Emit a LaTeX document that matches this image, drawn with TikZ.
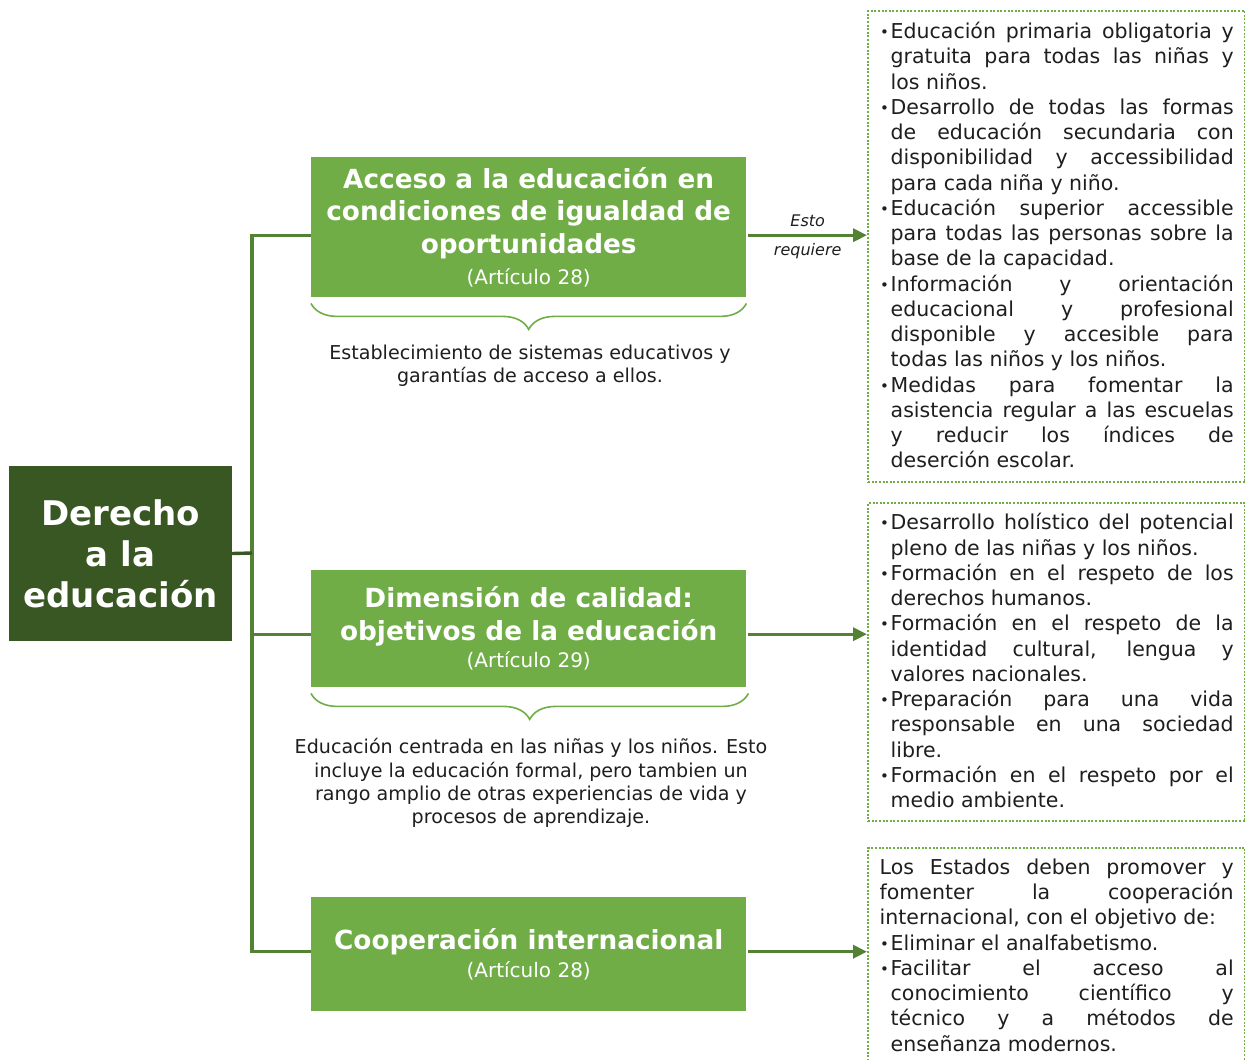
\documentclass[tikz,border=0pt]{standalone}
\usepackage{fontspec}
\setmainfont{DejaVu Sans}
\definecolor{edDark}{HTML}{385723}
\definecolor{edGreen}{HTML}{70AD47}
\definecolor{edLine}{HTML}{548235}
\definecolor{edInk}{HTML}{1E1E1E}
\usetikzlibrary{calc,positioning,arrows.meta,decorations.pathreplacing}

% bullet item with hanging indent
\newcommand{\punto}{\par\noindent\hangindent=11pt\hangafter=1%
  \makebox[11pt][l]{\hspace{0.5pt}\raisebox{1pt}{\fontsize{15}{15}\selectfont\textbullet}}}
% article reference under a box title
\newcommand{\articulo}[1]{{\fontsize{20}{24}\selectfont\mdseries #1}}

\begin{document}
\begin{tikzpicture}[x=1pt,y=-1pt,
  raiz/.style={fill=edDark, text=white, minimum width=223pt, minimum height=175pt,
    inner sep=0pt, align=center, font=\fontsize{34}{41}\selectfont\bfseries},
  caja/.style={fill=edGreen, text=white, minimum width=435pt, inner sep=0pt,
    anchor=north west, align=center, font=\fontsize{26.3}{32.5}\selectfont\bfseries},
  nota/.style={text=edInk, align=center, font=\fontsize{19.1}{23.3}\selectfont},
  lista/.style={draw=edGreen, line width=2.4pt, dash pattern=on 2pt off 1.6pt,
    text=edInk, minimum width=377pt, text width=354pt, inner xsep=11.5pt, inner ysep=0pt,
    anchor=north west, align=justify, font=\fontsize{20.5}{25.25}\selectfont,
    execute at begin node={\parindent=0pt\tolerance=10000\hbadness=10000\hyphenpenalty=10000}},
  rama/.style={draw=edLine, line width=3.4pt},
  flecha/.style={draw=edLine, line width=3.4pt, -{Triangle[length=14pt,width=13pt]}},
  llave/.style={draw=edGreen, line width=1.6pt, decorate, decoration={brace, amplitude=26pt}},
  etiqueta/.style={text=edInk, font=\fontsize{16}{19}\selectfont\itshape}]

  \useasboundingbox (0,0) rectangle (1245,1060);

  % root
  \node[raiz] (raiz) at (120.5,553.5) {Derecho\\a la\\educación};

  % three green boxes
  \node[caja, minimum height=140pt] (acceso) at (311,157)
    {Acceso a la educación en\\condiciones de igualdad de\\oportunidades\\[-1pt]
     \articulo{(Artículo 28)}};
  \node[caja, minimum height=117pt] (calidad) at (311,570)
    {Dimensión de calidad:\\objetivos de la educación\\[-5pt]\articulo{(Artículo 29)}};
  \node[caja, minimum height=114pt] (coop) at (311,897)
    {Cooperación internacional\\[-5pt]\articulo{(Artículo 28)}};

  % braces and notes
  \draw[llave] ([yshift=-6pt]acceso.south east) -- ([yshift=-6pt]acceso.south west);
  \node[nota] (nota1) at (530,365.5)
    {Establecimiento de sistemas educativos y\\garantías de acceso a ellos.};
  \draw[llave] ([yshift=-6pt,xshift=2pt]calidad.south east) -- ([yshift=-6pt]calidad.south west);
  \node[nota] (nota2) at (531,783)
    {Educación centrada en las niñas y los niños. Esto\\incluye la educación formal, pero tambien un\\rango amplio de otras experiencias de vida y\\procesos de aprendizaje.};

  % dotted lists on the right
  \node[lista, minimum height=471pt] (lista1) at (867,10) {%
    \punto Educación primaria obligatoria y\linebreak gratuita para todas las niñas y\linebreak los niños.
    \punto Desarrollo de todas las formas\linebreak de educación secundaria con\linebreak disponibilidad y accessibilidad\linebreak para cada niña y niño.
    \punto Educación superior accessible\linebreak para todas las personas sobre la\linebreak base de la capacidad.
    \punto Información y orientación\linebreak educacional y profesional\linebreak disponible y accesible para\linebreak todas las niños y los niños.
    \punto Medidas para fomentar la\linebreak asistencia regular a las escuelas\linebreak y reducir los índices de\linebreak deserción escolar.\par\vspace{12pt}};
  \node[lista, minimum height=318pt] (lista2) at (867,502) {%
    \punto Desarrollo holístico del potencial\linebreak pleno de las niñas y los niños.
    \punto Formación en el respeto de los\linebreak derechos humanos.
    \punto Formación en el respeto de la\linebreak identidad cultural, lengua y\linebreak valores nacionales.
    \punto Preparación para una vida\linebreak responsable en una sociedad\linebreak libre.
    \punto Formación en el respeto por el\linebreak medio ambiente.\par\vspace{12pt}};
  \node[lista, minimum height=216pt] (lista3) at (867,847) {%
    Los Estados deben promover y\linebreak fomenter la cooperación\linebreak internacional, con el objetivo de:
    \punto Eliminar el analfabetismo.
    \punto Facilitar el acceso al\linebreak conocimiento científico y\linebreak técnico y a métodos de\linebreak enseñanza modernos.\par\vspace{2pt}};

  % tree connectors
  \coordinate (tronco) at (252,553);
  \draw[rama] ([yshift=-8pt]acceso.west) -| (tronco) |- ([yshift=3pt]coop.west);
  \draw[rama] ([yshift=-5.5pt]calidad.west) -| (tronco);
  \draw[rama, draw=edDark] (raiz.east) -- (tronco);

  % arrows to the lists
  \coordinate (f1) at ([xshift=2pt,yshift=-8pt]acceso.east);
  \coordinate (f2) at ([xshift=2pt,yshift=-5.5pt]calidad.east);
  \coordinate (f3) at ([xshift=2pt,yshift=2.5pt]coop.east);
  \draw[flecha] (f1) -- (f1 -| lista1.west)
    node[etiqueta, midway, above=3pt] {Esto}
    node[etiqueta, midway, below=3pt] {requiere};
  \draw[flecha] (f2) -- (f2 -| lista2.west);
  \draw[flecha] (f3) -- (f3 -| lista3.west);
\end{tikzpicture}
\end{document}
